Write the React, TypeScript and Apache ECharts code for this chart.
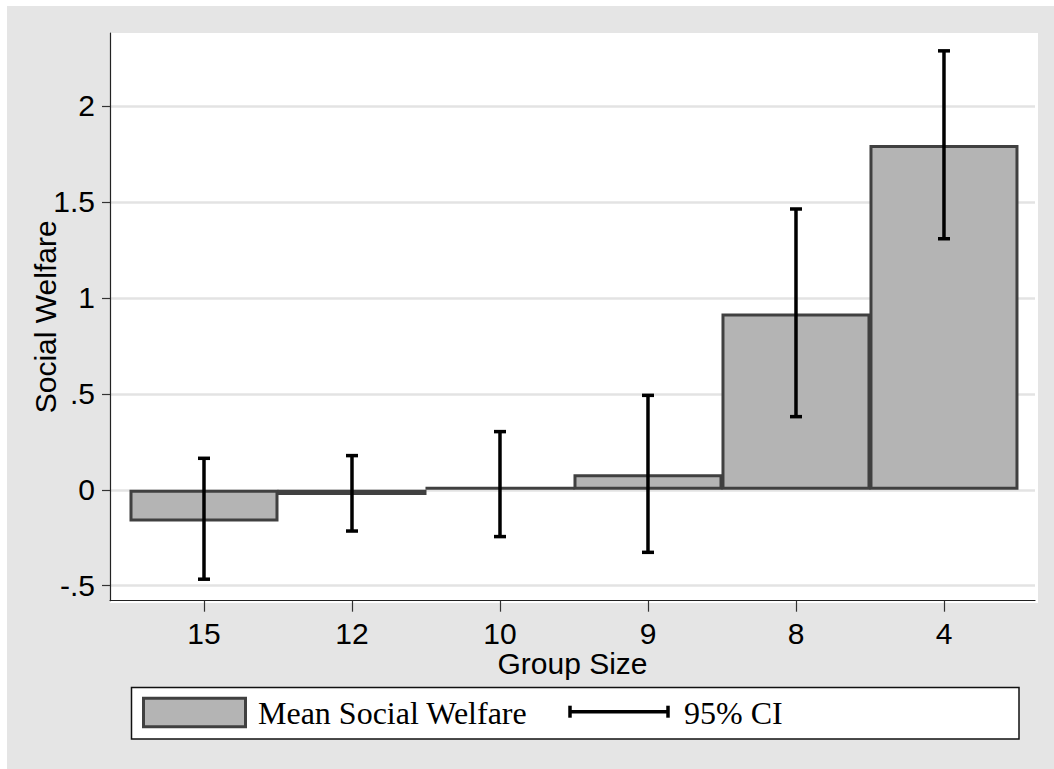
import React, { useEffect, useRef } from "react";
import * as echarts from "echarts";

const groups = ["15", "12", "10", "9", "8", "4"];
const positions = [1, 2, 3, 4, 5, 6];
const means = [-0.165, -0.027, 0.016, 0.081, 0.918, 1.797];
const ciLow = [-0.466, -0.215, -0.244, -0.326, 0.381, 1.308];
const ciHigh = [0.164, 0.178, 0.303, 0.492, 1.463, 2.287];
const yTicks = [-0.5, 0, 0.5, 1, 1.5, 2];

const fmtY = (v: number) => {
  if (v === 0) return "0";
  return String(v).replace(/^(-?)0\./, "$1.");
};

export default function App() {
  const ref = useRef<HTMLDivElement>(null);
  useEffect(() => {
    document.body.style.margin = "0";
    const chart = echarts.init(ref.current!, null, { renderer: "svg" });
    const barData = positions.map((p, i) => [p, means[i]]);
    const ciData = positions.map((p, i) => [p, ciLow[i], ciHigh[i]]);
    const sans = "'Liberation Sans', Arial, sans-serif";
    const serif = "'Liberation Serif', 'Times New Roman', serif";
    chart.setOption({
      animation: false,
      backgroundColor: "#ffffff",
      graphic: [
        {
          type: "rect",
          z: -100,
          silent: true,
          shape: { x: 7, y: 6, width: 1047, height: 763 },
          style: { fill: "#e5e5e5" },
        },
        {
          type: "rect",
          z: -99,
          silent: true,
          shape: { x: 110, y: 33, width: 928, height: 570 },
          style: { fill: "#ffffff" },
        },
        {
          type: "rect",
          shape: { x: 131.5, y: 687.5, width: 887.5, height: 51.5 },
          style: { fill: "#ffffff", stroke: "#111", lineWidth: 1.5 },
        },
        {
          type: "rect",
          shape: { x: 143.5, y: 698.2, width: 102, height: 28.5 },
          style: { fill: "#b4b4b4", stroke: "#404040", lineWidth: 3 },
        },
        {
          type: "text",
          x: 258,
          y: 713,
          style: {
            text: "Mean Social Welfare",
            font: `32px ${serif}`,
            fill: "#000",
            verticalAlign: "middle",
            align: "left",
          },
        },
        {
          type: "line",
          shape: { x1: 569, y1: 711.7, x2: 669, y2: 711.7 },
          style: { stroke: "#000", lineWidth: 3.5 },
        },
        {
          type: "line",
          shape: { x1: 570, y1: 705.7, x2: 570, y2: 717.7 },
          style: { stroke: "#000", lineWidth: 3.5 },
        },
        {
          type: "line",
          shape: { x1: 668, y1: 705.7, x2: 668, y2: 717.7 },
          style: { stroke: "#000", lineWidth: 3.5 },
        },
        {
          type: "text",
          x: 684,
          y: 713,
          style: {
            text: "95% CI",
            font: `32px ${serif}`,
            fill: "#000",
            verticalAlign: "middle",
            align: "left",
          },
        },
      ],
      grid: { left: 110, right: 19, top: 33, bottom: 168.3, containLabel: false },
      xAxis: {
        type: "value",
        min: 0.3649,
        max: 6.615,
        name: "Group Size",
        nameLocation: "middle",
        nameGap: 48,
        nameMoveOverlap: false,
        nameTextStyle: { fontFamily: sans, fontSize: 30, color: "#000" },
        axisLine: { show: true, onZero: false, lineStyle: { color: "#222", width: 1.2 } },
        axisTick: {
          show: true,
          length: 11,
          customValues: positions,
          lineStyle: { color: "#333", width: 1.2 },
        },
        axisLabel: {
          customValues: positions,
          formatter: (v: number) => groups[Math.round(v) - 1] ?? "",
          fontFamily: sans,
          fontSize: 30,
          color: "#000",
          margin: 18,
        },
        splitLine: { show: false },
      },
      yAxis: {
        type: "value",
        min: -0.578,
        max: 2.38,
        name: "Social Welfare",
        nameLocation: "middle",
        nameRotate: 90,
        nameGap: 50,
        nameMoveOverlap: false,
        nameTextStyle: { fontFamily: sans, fontSize: 30, color: "#000" },
        axisLine: { show: true, onZero: false, lineStyle: { color: "#222", width: 1.2 } },
        axisTick: {
          show: true,
          length: 8,
          customValues: yTicks,
          lineStyle: { color: "#333", width: 1.2 },
        },
        axisLabel: {
          customValues: yTicks,
          formatter: fmtY,
          fontFamily: sans,
          fontSize: 30,
          color: "#000",
          margin: 15,
          padding: [4, 0, 0, 0],
        },
        splitLine: { show: true, lineStyle: { color: "#e3e3e3", width: 2.5 } },
      },
      series: [
        {
          type: "bar",
          data: barData,
          barWidth: 149,
          z: 2,
          itemStyle: { color: "#b4b4b4", borderColor: "#404040", borderWidth: 3 },
          silent: true,
        },
        {
          type: "custom",
          data: ciData,
          encode: { x: 0, y: [1, 2] },
          z: 5,
          silent: true,
          renderItem: (params: any, api: any) => {
            const x = api.value(0);
            const lo = api.coord([x, api.value(1)]);
            const hi = api.coord([x, api.value(2)]);
            const hw = 6;
            const st = { stroke: "#000", lineWidth: 3.5 };
            return {
              type: "group",
              children: [
                { type: "line", shape: { x1: lo[0], y1: lo[1], x2: hi[0], y2: hi[1] }, style: st },
                { type: "line", shape: { x1: lo[0] - hw, y1: lo[1], x2: lo[0] + hw, y2: lo[1] }, style: st },
                { type: "line", shape: { x1: hi[0] - hw, y1: hi[1], x2: hi[0] + hw, y2: hi[1] }, style: st },
              ],
            };
          },
        },
      ],
    });
    return () => chart.dispose();
  }, []);
  return (
    <div
      ref={ref}
      style={{ position: "absolute", left: 0, top: 0, width: 1054, height: 769 }}
    />
  );
}
